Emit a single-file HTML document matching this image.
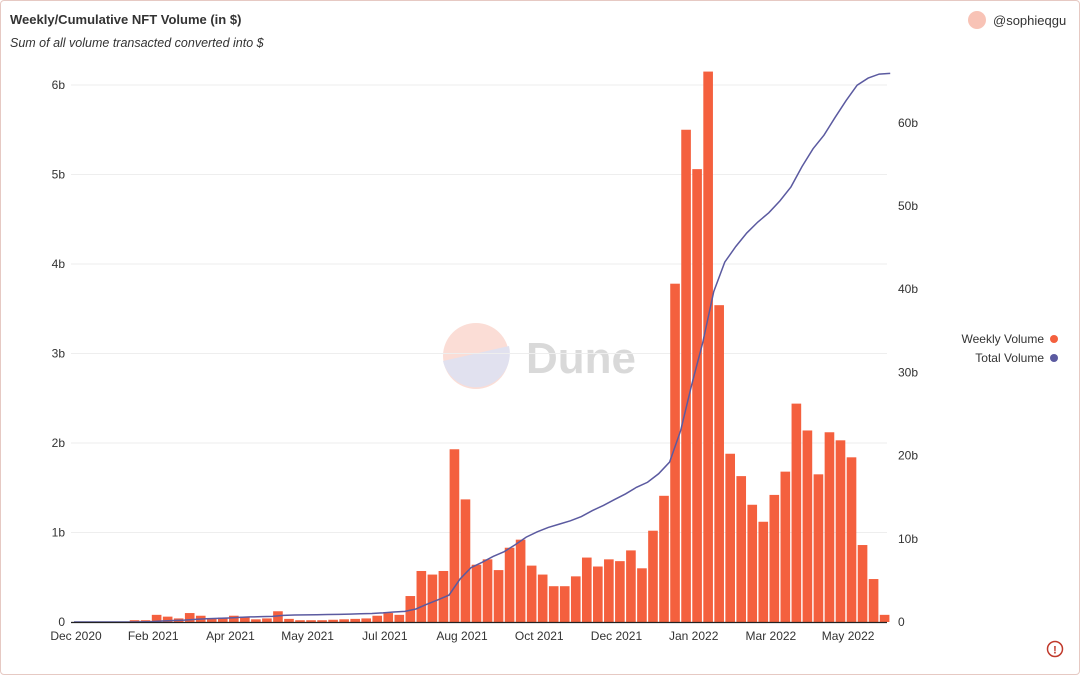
<!DOCTYPE html>
<html><head><meta charset="utf-8"><style>
body{margin:0;background:#fff;font-family:"Liberation Sans",sans-serif;}
#card{position:absolute;left:0;top:0;width:1078px;height:673px;border:1px solid #e6c9c3;border-radius:4px;overflow:hidden}
svg text{font-family:"Liberation Sans",sans-serif;fill:#333}
</style></head><body>
<div id="card">
<svg id="chart" width="1080" height="675">
<text x="9" y="23" font-size="13" font-weight="bold">Weekly/Cumulative NFT Volume (in $)</text>
<text x="9" y="46" font-size="12.5" font-style="italic">Sum of all volume transacted converted into $</text>
<circle cx="976" cy="19" r="9" fill="#f8c3b6"/>
<text x="992" y="24" font-size="13">@sophieqgu</text>
<g opacity="0.55">
<circle cx="475" cy="355" r="33" fill="#f8c3b6"/>
<path d="M442,360 A33,33 0 0 0 508,345 Z" fill="#c9c9e3"/>
<text x="525" y="372" font-size="44" font-weight="bold" style="fill:#bbb">Dune</text>
</g>
<g id="grid"></g><g id="bars"></g><g id="line"></g><g id="axes"></g>
<g>
<text x="1043" y="342" font-size="12" text-anchor="end">Weekly Volume</text>
<circle cx="1053" cy="338" r="4" fill="#f4603e"/>
<text x="1043" y="361" font-size="12" text-anchor="end">Total Volume</text>
<circle cx="1053" cy="357" r="4" fill="#5b5aa0"/>
</g>
<g>
<circle cx="1054" cy="648" r="7.5" fill="none" stroke="#c0392b" stroke-width="1.5"/>
<text x="1054" y="652.5" font-size="11" font-weight="bold" text-anchor="middle" style="fill:#c0392b">!</text>
</g>
</svg></div>
<script>
const weekly=[0,0,0,0,0,0.02,0.02,0.08,0.06,0.04,0.1,0.07,0.04,0.05,0.07,0.06,0.03,0.04,0.12,0.035,0.02,0.02,0.02,0.025,0.03,0.035,0.04,0.07,0.1,0.08,0.29,0.57,0.53,0.57,1.93,1.37,0.64,0.70,0.58,0.83,0.92,0.63,0.53,0.40,0.40,0.51,0.72,0.62,0.70,0.68,0.80,0.60,1.02,1.41,3.78,5.5,5.06,6.15,3.54,1.88,1.63,1.31,1.12,1.42,1.68,2.44,2.14,1.65,2.12,2.03,1.84,0.86,0.48,0.08];
const leftTicks=[0,1,2,3,4,5,6];
const leftLabels=["0","1b","2b","3b","4b","5b","6b"];
const rightTicks=[0,10,20,30,40,50,60];
const rightLabels=["0","10b","20b","30b","40b","50b","60b"];
const xTickIdx=[0,7,14,21,28,35,42,49,56,63,70];
const xTickLabels=["Dec 2020","Feb 2021","Apr 2021","May 2021","Jul 2021","Aug 2021","Oct 2021","Dec 2021","Jan 2022","Mar 2022","May 2022"];
const NS="http://www.w3.org/2000/svg";
const x0=73,step=11.03,base=621;
const yL=v=>base-v*89.5, yR=v=>base-v*8.32, xB=i=>x0+i*step;
function mk(t,a,p){const e=document.createElementNS(NS,t);for(const k in a)e.setAttribute(k,a[k]);p.appendChild(e);return e;}
const grid=document.getElementById('grid'),bars=document.getElementById('bars'),line=document.getElementById('line'),axes=document.getElementById('axes');
leftTicks.forEach((v,i)=>{
 const g=mk('line',{x1:70,x2:886,y1:yL(v),y2:yL(v),stroke:'#eee'},grid);
 
 
 const t=mk('text',{x:64,y:yL(v)+4,'font-size':12,'text-anchor':'end'},axes);t.textContent=leftLabels[i];
 
 
});
rightTicks.forEach((v,i)=>{
 const t=mk('text',{x:897,y:yR(v)+4,'font-size':12},axes);t.textContent=rightLabels[i];
 
 
});
xTickIdx.forEach((k,i)=>{
 const t=mk('text',{x:xB(k)+2,y:639,'font-size':12,'text-anchor':'middle'},axes);t.textContent=xTickLabels[i];
 
 
});
weekly.forEach((v,i)=>{
 if(v<=0)return;
 const r=mk('rect',{x:xB(i)+0.6,y:yL(v),width:step-1.4,height:base-yL(v),fill:'#f4603e'},bars);
 
 
});
let cum=0,pts=[[xB(0),yR(0)]];
weekly.forEach((v,i)=>{cum+=v;pts.push([xB(i+1),yR(cum)]);});
const pl=mk('polyline',{points:pts.map(p=>p.join(',')).join(' '),fill:'none',stroke:'#5b5aa0','stroke-width':1.5},line);


const ax=mk('line',{x1:70,x2:886,y1:base+0.5,y2:base+0.5,stroke:'#222','stroke-width':1.2},axes);


</script>
</body></html>
